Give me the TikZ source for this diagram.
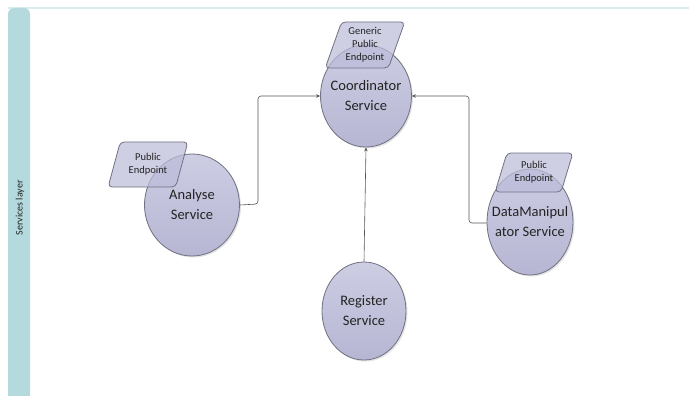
\documentclass[tikz,border=0pt]{standalone}
\usepackage{fontspec}
\setmainfont{Carlito}
\usetikzlibrary{shapes.geometric,arrows.meta,shadows}
\definecolor{svcfill}{RGB}{188,188,218}
\definecolor{svcline}{RGB}{112,112,130}
\definecolor{bandcol}{RGB}{180,218,222}
\definecolor{toplinecol}{RGB}{218,236,238}
\definecolor{connc}{RGB}{85,85,85}
\definecolor{txtc}{RGB}{35,35,35}
\tikzset{
  svc/.style={ellipse, draw=svcline, line width=0.8pt, top color=svcfill!75!white, bottom color=svcfill!97!black,
     inner sep=0pt,
     drop shadow={opacity=0.22, shadow xshift=1.5pt, shadow yshift=-1.5pt}},
  svctext/.style={font=\fontsize{14.5}{20}\selectfont, text=txtc, align=center, inner sep=0pt},
  endpt/.style={trapezium, trapezium left angle=69, trapezium right angle=111, trapezium stretches=true,
     draw=svcline, line width=0.8pt, fill=svcfill, fill opacity=0.72, text opacity=1, text=txtc, rounded corners=4pt,
     font=\fontsize{10.5}{13}\selectfont, align=center, inner sep=0pt},
  conn/.style={draw=connc, line width=0.6pt, rounded corners=3pt, -{Stealth[length=4pt,width=3.5pt]}}
}
\begin{document}
\begin{tikzpicture}[x=1pt,y=-1pt]
\useasboundingbox (0,0) rectangle (689,396);
% lane
\fill[toplinecol] (8,7) rectangle (689,9);
\fill[bandcol, rounded corners=6pt] (8,8) -- (30,8) -- (30,400) -- (8,400) -- cycle;
\fill[bandcol] (8,390) rectangle (30,396);
\node[rotate=90, font=\fontsize{10}{12}\selectfont, text=txtc] (lane) at (20,208) {Services layer};
% services
\node[svc, minimum width=91, minimum height=102, label={[svctext]center:Coordinator\\Service}] (coord) at (366,96) {};
\node[svc, minimum width=95, minimum height=102, label={[svctext]center:Analyse\\Service}] (analyse) at (192,205) {};
\node[svc, minimum width=86, minimum height=106, label={[svctext]center:DataManipul\\ator Service}] (dm) at (530,222) {};
\node[svc, minimum width=84, minimum height=98, label={[svctext]center:Register\\Service}] (reg) at (364,311) {};
% endpoints
\node[endpt, minimum width=80, minimum height=46] (gep) at (365,45) {Generic\\Public\\Endpoint};
\node[endpt, minimum width=80, minimum height=45] (aep) at (148,164.5) {Public\\Endpoint};
\node[endpt, minimum width=78, minimum height=39] (dep) at (534,172.5) {Public\\Endpoint};
% connectors
\coordinate (a1) at (258,204);
\coordinate (d1) at (469,223);
\draw[conn] (analyse.east) -- (a1) |- (coord.west);
\draw[conn] (dm.west |- d1) -- (d1) |- (coord.east);
\draw[conn] (reg.north) -- (coord.south);
\end{tikzpicture}
\end{document}
